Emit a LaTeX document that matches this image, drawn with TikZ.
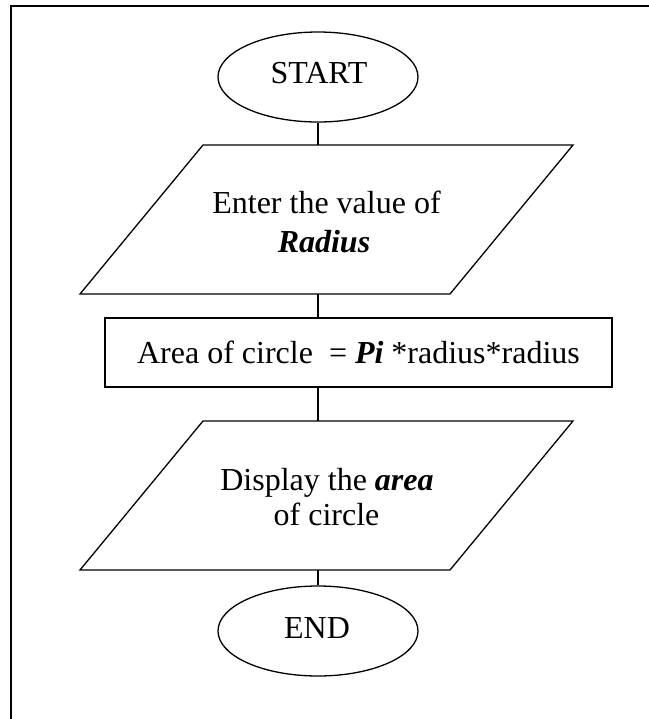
\documentclass[tikz,border=0pt]{standalone}
\usepackage{fontspec}
\setmainfont{Liberation Serif}
\usetikzlibrary{shapes.geometric}
\begin{document}
\begin{tikzpicture}[x=0.5pt,y=-0.5pt,
  outline/.style={draw, line width=0.65pt, line join=miter},
  term/.style={ellipse, draw, line width=0.65pt, minimum width=100pt, minimum height=45pt, inner sep=0pt},
  procbox/.style={rectangle, draw, line width=0.65pt, minimum width=253.5pt, minimum height=34.5pt, inner sep=0pt},
  txt/.style={anchor=base, font=\fontsize{16pt}{19pt}\selectfont, inner sep=0pt},
  conn/.style={line width=0.65pt},
  frame/.style={line width=1pt}]
\useasboundingbox (0,0) rectangle (649,719);
% frame
\coordinate (fbl) at (11,719);
\coordinate (ftl) at (11,6);
\coordinate (ftr) at (649,6);
\draw[frame] (fbl) -- (ftl) -- (ftr);
% START
\node[term] (start) at (318,77) {};
\node[txt] (starttxt) at (319,83) {START};
% input parallelogram
\coordinate (p1a) at (80,294);
\coordinate (p1b) at (203,145);
\coordinate (p1c) at (573,145);
\coordinate (p1d) at (450,294);
\coordinate (p1top) at (318,145);
\coordinate (p1bot) at (318,294);
\draw[outline] (p1a) -- (p1b) -- (p1c) -- (p1d) -- cycle;
\node[txt] (in1) at (326.5,213) {Enter the value of};
\node[txt] (in2) at (324,252) {\textbf{\textit{Radius}}};
% process
\node[procbox, font=\fontsize{16pt}{19pt}\selectfont] (proc) at (358.5,352.5) {Area of circle\ \ = \textbf{\textit{Pi}} *radius*radius};
% output parallelogram
\coordinate (p2a) at (80,570);
\coordinate (p2b) at (203,421);
\coordinate (p2c) at (573,421);
\coordinate (p2d) at (450,570);
\coordinate (p2top) at (318,421);
\coordinate (p2bot) at (318,570);
\draw[outline] (p2a) -- (p2b) -- (p2c) -- (p2d) -- cycle;
\node[txt] (out1) at (327,490) {Display the \textbf{\textit{area}}};
\node[txt] (out2) at (326.5,525) {of circle};
% END
\node[term] (end) at (318,631) {};
\node[txt] (endtxt) at (317,638) {END};
% connectors
\draw[conn] (start.south) -- (p1top);
\draw[conn] (p1bot) -- (proc.north -| p1bot);
\draw[conn] (proc.south -| p2top) -- (p2top);
\draw[conn] (p2bot) -- (end.north);
\end{tikzpicture}
\end{document}
